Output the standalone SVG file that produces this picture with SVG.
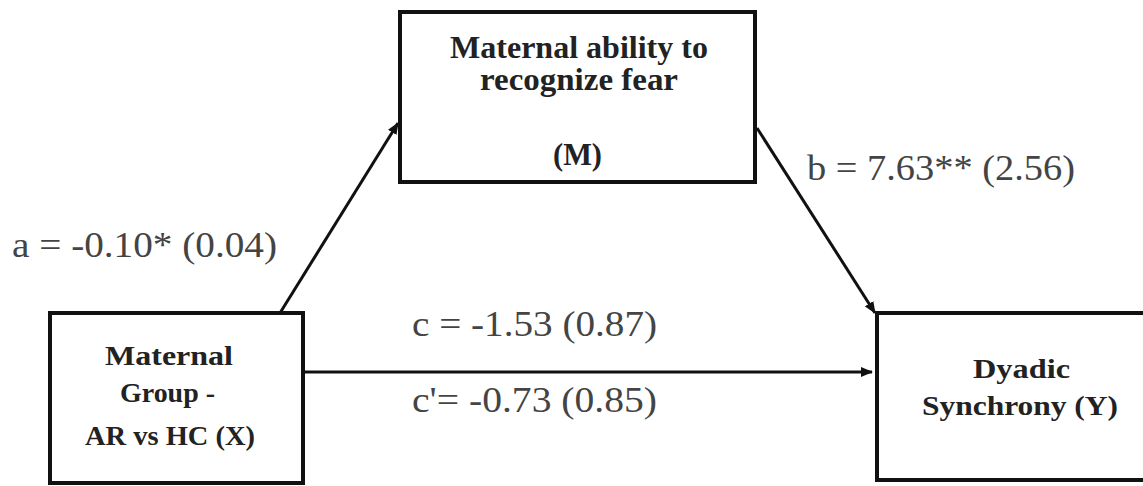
<svg xmlns="http://www.w3.org/2000/svg" width="1143" height="486" viewBox="0 0 1143 486">
<style>
.box{fill:#fff;stroke:#111;stroke-width:4}
.bt{font-family:"Liberation Serif",serif;font-weight:bold;fill:#222;text-anchor:start}
.lb{font-family:"Liberation Serif",serif;fill:#444;font-size:36px}
.con{stroke:#111;stroke-width:3;fill:none}
</style>
<defs>
<marker id="ah" viewBox="0 0 12 10" refX="11" refY="5" markerWidth="12" markerHeight="10" markerUnits="userSpaceOnUse" orient="auto">
<path d="M0,0 L12,5 L0,10 Z" fill="#111"/>
</marker>
</defs>
<rect width="1143" height="486" fill="#fff"/>
<g id="connectors">
<line class="con" x1="280" y1="313" x2="398" y2="123" marker-end="url(#ah)"/>
<line class="con" x1="757" y1="128" x2="875" y2="313" marker-end="url(#ah)"/>
<line class="con" x1="303" y1="372" x2="872" y2="372" marker-end="url(#ah)"/>
</g>
<g id="node-M">
<rect class="box" x="400" y="12" width="355" height="170"/>
<text class="bt" x="450" y="58" font-size="31" textLength="258" lengthAdjust="spacingAndGlyphs">Maternal ability to</text>
<text class="bt" x="480" y="90" font-size="31" textLength="198" lengthAdjust="spacingAndGlyphs">recognize fear</text>
<text class="bt" x="553" y="165" font-size="31" textLength="49" lengthAdjust="spacingAndGlyphs">(M)</text>
</g>
<g id="node-X">
<rect class="box" x="50" y="313" width="253" height="170"/>
<text class="bt" x="105" y="365" font-size="27" textLength="128" lengthAdjust="spacingAndGlyphs">Maternal</text>
<text class="bt" x="120" y="402" font-size="27" textLength="95" lengthAdjust="spacingAndGlyphs">Group -</text>
<text class="bt" x="85" y="445" font-size="27" textLength="170" lengthAdjust="spacingAndGlyphs">AR vs HC (X)</text>
</g>
<g id="node-Y">
<rect class="box" x="877" y="313" width="270" height="167"/>
<text class="bt" x="973" y="378" font-size="27" textLength="97" lengthAdjust="spacingAndGlyphs">Dyadic</text>
<text class="bt" x="922" y="415" font-size="27" textLength="196" lengthAdjust="spacingAndGlyphs">Synchrony (Y)</text>
</g>
<g id="labels">
<text class="lb" x="12" y="257" textLength="265" lengthAdjust="spacingAndGlyphs">a = -0.10* (0.04)</text>
<text class="lb" x="807" y="180" textLength="268" lengthAdjust="spacingAndGlyphs">b = 7.63** (2.56)</text>
<text class="lb" x="412" y="336" textLength="245" lengthAdjust="spacingAndGlyphs">c = -1.53 (0.87)</text>
<text class="lb" x="412" y="412" textLength="245" lengthAdjust="spacingAndGlyphs">c'= -0.73 (0.85)</text>
</g>
</svg>
